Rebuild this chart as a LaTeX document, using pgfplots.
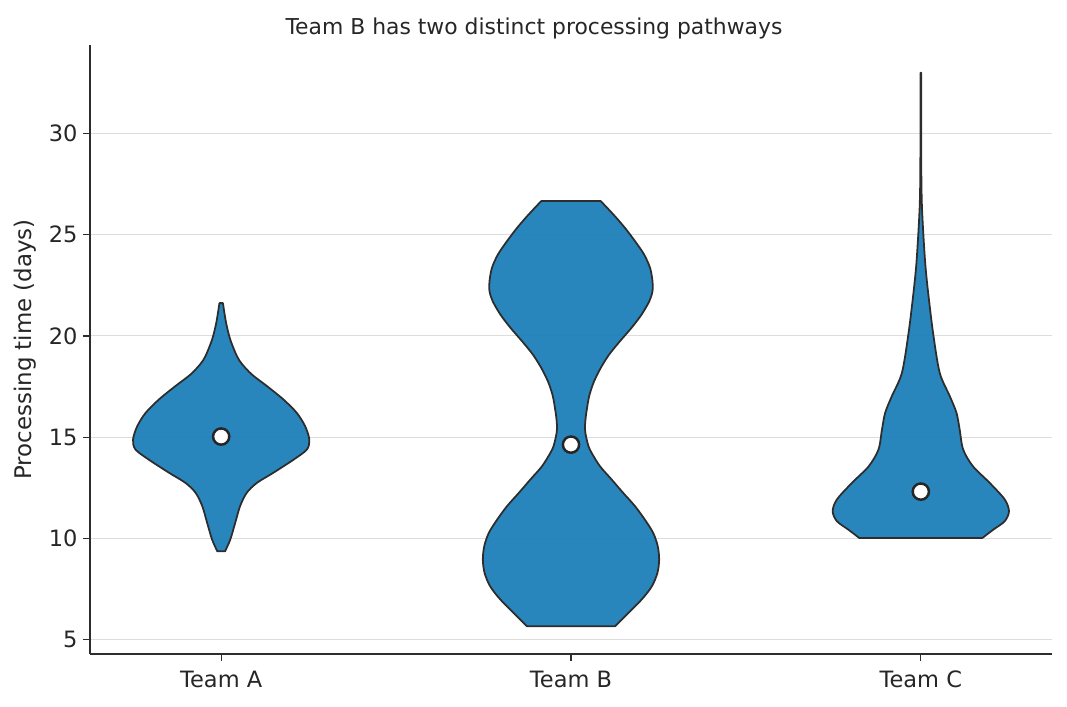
\documentclass[border=0pt]{standalone}
\usepackage{fontspec}
\setmainfont{DejaVu Sans}
\usepackage{pgfplots}
\usepackage{pgfplotstable}
\pgfplotsset{compat=1.18}
\usepgfplotslibrary{fillbetween}

\definecolor{violin}{RGB}{29,128,185}
\definecolor{edge}{RGB}{45,45,45}
\definecolor{txt}{RGB}{38,38,38}
\definecolor{gridc}{RGB}{221,221,221}

% violin outlines: y value and half width (in category units)
\pgfplotstableread{
y w
9.36 0.011
9.94 0.026
10.76 0.040
11.59 0.054
12.25 0.073
12.74 0.102
13.24 0.149
13.89 0.207
14.39 0.245
14.88 0.252
15.54 0.240
16.20 0.216
16.86 0.178
17.52 0.131
18.09 0.088
18.60 0.060
19.00 0.045
19.82 0.026
20.65 0.014
21.62 0.005
}\teamA

\pgfplotstableread{
y w
5.66 0.126
6.32 0.164
6.98 0.202
7.63 0.231
8.29 0.247
8.95 0.252
9.61 0.248
10.27 0.235
10.93 0.211
11.59 0.183
12.25 0.149
12.91 0.116
13.56 0.083
14.22 0.059
14.55 0.050
14.88 0.045
15.22 0.041
15.50 0.040
15.79 0.041
16.12 0.043
16.45 0.046
16.78 0.049
17.10 0.053
17.43 0.059
17.76 0.066
18.42 0.085
19.08 0.109
19.74 0.140
20.40 0.173
21.06 0.202
21.72 0.224
22.21 0.233
22.70 0.233
23.36 0.226
24.02 0.209
24.68 0.183
25.34 0.154
26.00 0.121
26.66 0.085
}\teamB

\pgfplotstableread{
y w
10.02 0.176
10.43 0.207
10.85 0.240
11.34 0.252
11.92 0.240
12.74 0.197
13.56 0.149
14.39 0.121
15.38 0.111
16.20 0.102
17.02 0.083
18.18 0.054
20.15 0.035
22.13 0.021
23.50 0.013
25.09 0.007
26.50 0.003
28.00 0.0015
30.50 0.001
33.00 0.001
}\teamC

\pgfplotsset{
  vio/.style={fill=violin, fill opacity=0.95, draw=edge, line width=0.85pt, line join=round},
  side/.style={draw=none, smooth, tension=0.5, forget plot},
}

\begin{document}
\begin{tikzpicture}
\begin{axis}[name=ax,
  scale only axis, width=461.76pt, height=292.32pt,
  xmin=-0.375, xmax=2.375, ymin=4.29, ymax=34.37,
  axis x line*=bottom, axis y line*=left,
  axis line style={draw=edge, line width=0.6pt},
  xtick={0,1,2}, xticklabels={Team A, Team B, Team C},
  ytick={5,10,...,30},
  tick align=outside, major tick length=3.4pt,
  tick style={draw=edge, line width=0.6pt},
  ymajorgrids, grid style={gridc, line width=0.5pt},
  tick label style={text=txt, font=\fontsize{10.8}{13}\selectfont},
  /pgf/number format/assume math mode=true,
  xticklabel style={anchor=base, yshift=-12.5pt},
  yticklabel style={anchor=east, inner sep=0pt, xshift=-2.4pt},
  title={Team B has two distinct processing pathways},
  title style={at={(axis description cs:0.4615,1)}, anchor=base, yshift=-0.9pt,
    text=txt, font=\fontsize{10.5}{12.6}\selectfont},
  ylabel={Processing time (days)},
  ylabel style={at={(axis description cs:-0.0676,0.5)}, anchor=center,
    text=txt, font=\fontsize{11}{13}\selectfont},
]
\addplot[side, name path=ar] table[x expr=\thisrow{w}, y=y]{\teamA};
\addplot[side, name path=al] table[x expr=-\thisrow{w}, y=y]{\teamA};
\addplot[vio] fill between[of=ar and al, reverse=true];

\addplot[side, name path=br] table[x expr=1+\thisrow{w}, y=y]{\teamB};
\addplot[side, name path=bl] table[x expr=1-\thisrow{w}, y=y]{\teamB};
\addplot[vio] fill between[of=br and bl, reverse=true];

\addplot[side, name path=cr] table[x expr=2+\thisrow{w}, y=y]{\teamC};
\addplot[side, name path=cl] table[x expr=2-\thisrow{w}, y=y]{\teamC};
\addplot[vio] fill between[of=cr and cl, reverse=true];

% medians
\addplot[only marks, mark=*, mark size=3.9pt,
  mark options={fill=white, draw=black!85, line width=1.2pt}]
  coordinates {(0,15.03) (1,14.63) (2,12.31)};
\end{axis}
\pgfresetboundingbox
\path[use as bounding box] ([xshift=-43.2pt,yshift=-25.44pt]ax.south west)
  rectangle ([xshift=7.2pt,yshift=21.6pt]ax.north east);
\end{tikzpicture}
\end{document}
